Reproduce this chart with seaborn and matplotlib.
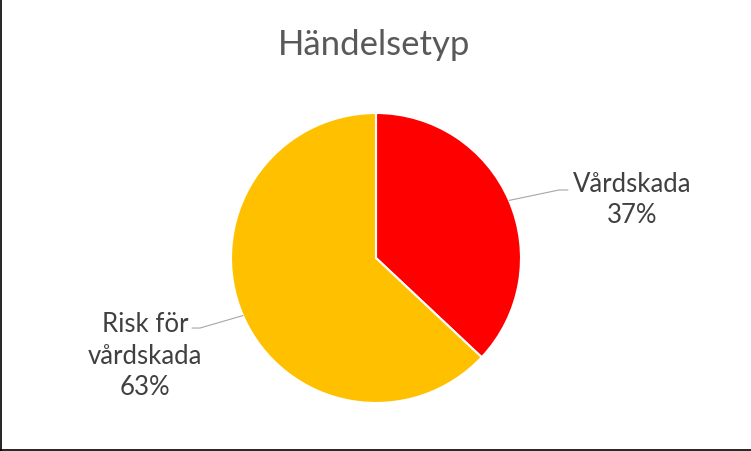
import numpy as np
import matplotlib
matplotlib.use("Agg")
import matplotlib.pyplot as plt
import seaborn as sns
from matplotlib.lines import Line2D

# data
title = "Händelsetyp"
categories = ["Vårdskada", "Risk för\nvårdskada"]
values = [37, 63]
colors = ["#FF0000", "#FFC000"]

sns.set_theme(style="white")
plt.rcParams['font.family'] = ['Lato', 'DejaVu Sans']

fig = plt.figure(figsize=(7.51, 4.51), dpi=100)
fig.patch.set_facecolor("white")

# pie area: center (376, 258) px, radius 145 px
W, H = 751, 451
cx, cy, r = 376, 258, 145
ax = fig.add_axes([(cx - r) / W, (H - cy - r) / H, 2 * r / W, 2 * r / H])

wedges, _ = ax.pie(values, colors=colors, startangle=90, counterclock=False,
                   radius=1, wedgeprops=dict(edgecolor="white", linewidth=1.5))
ax.set_xlim(-1, 1)
ax.set_ylim(-1, 1)
ax.set_aspect("equal")
ax.axis("off")

# label positions (text centre, leader elbow) in pie units
text_pos = [(1.765, 0.40), (-1.593, -0.676)]
elbows = [((1.262, 0.469), (1.324, 0.469)), ((-1.214, -0.483), (-1.269, -0.483))]

total = sum(values)
for w, cat, v, tp, el in zip(wedges, categories, values, text_pos, elbows):
    mid = np.deg2rad((w.theta1 + w.theta2) / 2)
    ex, ey = np.cos(mid), np.sin(mid)
    ax.plot([ex, el[0][0], el[1][0]], [ey, el[0][1], el[1][1]],
            color="#A6A6A6", lw=0.8, clip_on=False)
    ax.text(tp[0], tp[1], f"{cat}\n{round(100 * v / total)}%",
            ha="center", va="center", fontsize=18.5, color="#404040",
            linespacing=1.32, clip_on=False)

fig.text(374 / W, 1 - 45 / H, title, ha="center", va="center",
         fontsize=25, color="#595959")

# outer frame (left and bottom edges)
fig.add_artist(Line2D([0.5 / W, 0.5 / W], [0, 1], transform=fig.transFigure,
                      color="black", lw=1.2))
fig.add_artist(Line2D([0, 1], [1.5 / H, 1.5 / H], transform=fig.transFigure,
                      color="black", lw=1.2))

fig.savefig("out.png", dpi=100)
